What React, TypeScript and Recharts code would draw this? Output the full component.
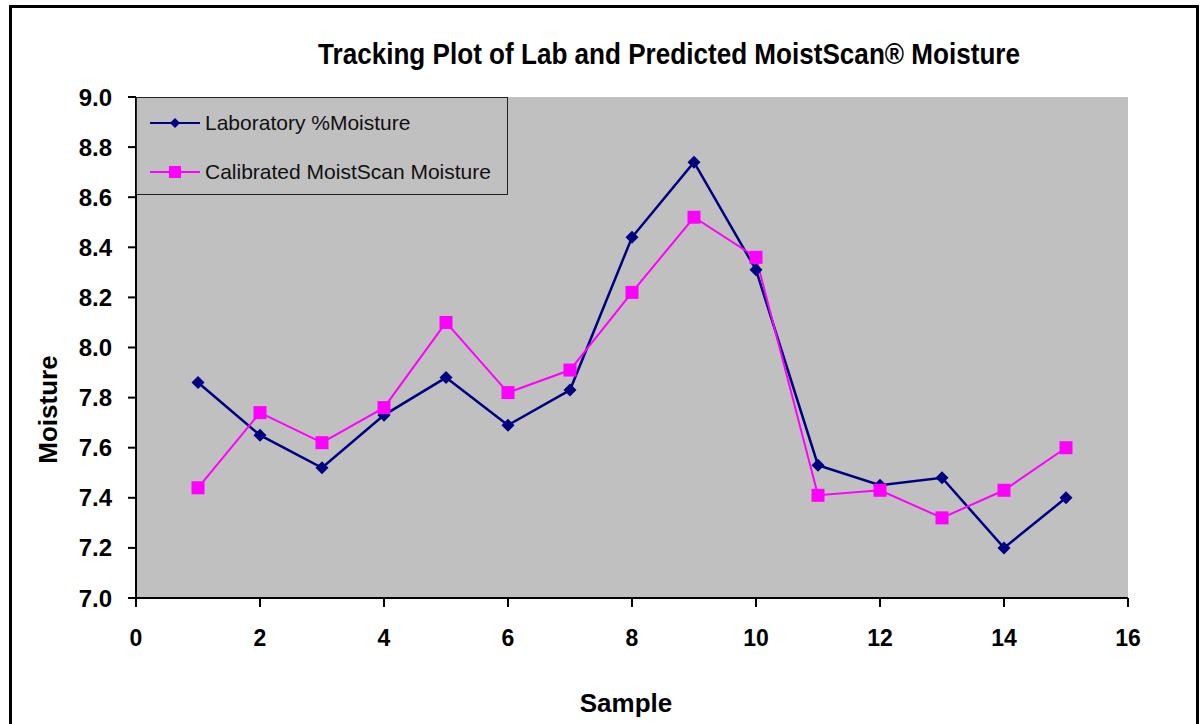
import { LineChart, Line, XAxis, YAxis, CartesianGrid, Legend, Label } from 'recharts'

const samples = [1, 2, 3, 4, 5, 6, 7, 8, 9, 10, 11, 12, 13, 14, 15]
const labMoisture = [7.86, 7.65, 7.52, 7.73, 7.88, 7.69, 7.83, 8.44, 8.74, 8.31, 7.53, 7.45, 7.48, 7.2, 7.4]
const calibratedMoisture = [7.44, 7.74, 7.62, 7.76, 8.1, 7.82, 7.91, 8.22, 8.52, 8.36, 7.41, 7.43, 7.32, 7.43, 7.6]
const xTicks = [0, 2, 4, 6, 8, 10, 12, 14, 16]
const yTicks = [7.0, 7.2, 7.4, 7.6, 7.8, 8.0, 8.2, 8.4, 8.6, 8.8, 9.0]

const data = samples.map((s, i) => ({ sample: s, lab: labMoisture[i], calibrated: calibratedMoisture[i] }))

const NAVY = '#000080'
const MAGENTA = '#FF00FF'
const BOLD_FONT = '"Liberation Sans", Arial, sans-serif'

function Diamond({ cx, cy }: any) {
  if (cx == null || cy == null) return null
  const r = 6.5
  return <path d={`M${cx},${cy - r}L${cx + r},${cy}L${cx},${cy + r}L${cx - r},${cy}Z`} fill={NAVY} />
}

function Square({ cx, cy }: any) {
  if (cx == null || cy == null) return null
  const s = 13
  return <rect x={cx - s / 2} y={cy - s / 2} width={s} height={s} fill={MAGENTA} />
}

function LegendBox() {
  const rows = [
    { label: 'Laboratory %Moisture', color: NAVY, marker: 'diamond' },
    { label: 'Calibrated MoistScan Moisture', color: MAGENTA, marker: 'square' },
  ]
  return (
    <div
      style={{
        width: 372,
        height: 98,
        boxSizing: 'border-box',
        background: '#C0C0C0',
        border: '1px solid #222',
        fontFamily: '"Liberation Sans", Arial, sans-serif',
        fontSize: 21,
        color: '#111',
      }}
    >
      {rows.map((r) => (
        <div key={r.label} style={{ display: 'flex', alignItems: 'center', height: 49 }}>
          <svg width={68} height={20} style={{ flex: 'none' }}>
            <line x1={13} y1={10} x2={63} y2={10} stroke={r.color} strokeWidth={2} />
            {r.marker === 'diamond' ? (
              <path d="M38,5L43,10L38,15L33,10Z" fill={r.color} />
            ) : (
              <rect x={32} y={4} width={12} height={12} fill={r.color} />
            )}
          </svg>
          <span style={{ whiteSpace: 'nowrap' }}>{r.label}</span>
        </div>
      ))}
    </div>
  )
}

export default function App() {
  return (
    <div style={{ position: 'absolute', left: 0, top: 0, width: 1203, height: 724, overflow: 'hidden', background: '#fff' }}>
      <div
        style={{
          position: 'absolute',
          left: 9,
          top: 5,
          width: 1190,
          height: 760,
          border: '3px solid #000',
          boxSizing: 'border-box',
        }}
      />
      <svg width={1203} height={90} style={{ position: 'absolute', left: 0, top: 0 }}>
        <text
          x={318}
          y={64}
          textLength={702}
          lengthAdjust="spacingAndGlyphs"
          fontFamily={BOLD_FONT}
          fontWeight="bold"
          fontSize={29}
          fill="#000"
        >
          Tracking Plot of Lab and Predicted MoistScan® Moisture
        </text>
      </svg>
      <div style={{ position: 'absolute', left: 0, top: 0 }}>
        <LineChart width={1203} height={724} data={data} margin={{ top: 97, right: 75, bottom: 0, left: 0 }}>
          <CartesianGrid horizontal={false} vertical={false} fill="#C0C0C0" />
          <XAxis
            type="number"
            dataKey="sample"
            domain={[0, 16]}
            ticks={xTicks}
            height={126}
            tickSize={9}
            tickMargin={23}
            axisLine={{ stroke: '#000', strokeWidth: 2 }}
            tickLine={{ stroke: '#000', strokeWidth: 2 }}
            tick={{ fill: '#000', fontSize: 23, fontWeight: 'bold', fontFamily: BOLD_FONT }}
          >
            <Label
              content={({ viewBox }: any) => (
                <text
                  x={viewBox.x + viewBox.width / 2 - 6}
                  y={712}
                  textAnchor="middle"
                  fontFamily={BOLD_FONT}
                  fontWeight="bold"
                  fontSize={26}
                  fill="#000"
                >
                  Sample
                </text>
              )}
            />
          </XAxis>
          <YAxis
            type="number"
            domain={[7, 9]}
            ticks={yTicks}
            width={136}
            tickSize={8}
            tickMargin={16}
            tickFormatter={(v: number) => v.toFixed(1)}
            axisLine={{ stroke: '#000', strokeWidth: 2 }}
            tickLine={{ stroke: '#000', strokeWidth: 2 }}
            tick={{ fill: '#000', fontSize: 24, fontWeight: 'bold', fontFamily: BOLD_FONT }}
          >
            <Label
              content={({ viewBox }: any) => {
                const cy = viewBox.y + viewBox.height / 2 + 62
                return (
                  <text
                    x={57}
                    y={cy}
                    transform={`rotate(-90, 57, ${cy})`}
                    textAnchor="middle"
                    fontFamily={BOLD_FONT}
                    fontWeight="bold"
                    fontSize={26}
                    fill="#000"
                  >
                    Moisture
                  </text>
                )
              }}
            />
          </YAxis>
          <Legend
            layout="horizontal"
            verticalAlign="middle"
            align="center"
            content={<LegendBox />}
            wrapperStyle={{ position: 'absolute', left: 136, top: 97, width: 372, height: 98 }}
          />
          <Line
            type="linear"
            dataKey="lab"
            name="Laboratory %Moisture"
            stroke={NAVY}
            strokeWidth={2.5}
            dot={<Diamond />}
            activeDot={false}
            isAnimationActive={false}
          />
          <Line
            type="linear"
            dataKey="calibrated"
            name="Calibrated MoistScan Moisture"
            stroke={MAGENTA}
            strokeWidth={2}
            dot={<Square />}
            activeDot={false}
            isAnimationActive={false}
          />
        </LineChart>
      </div>
    </div>
  )
}
